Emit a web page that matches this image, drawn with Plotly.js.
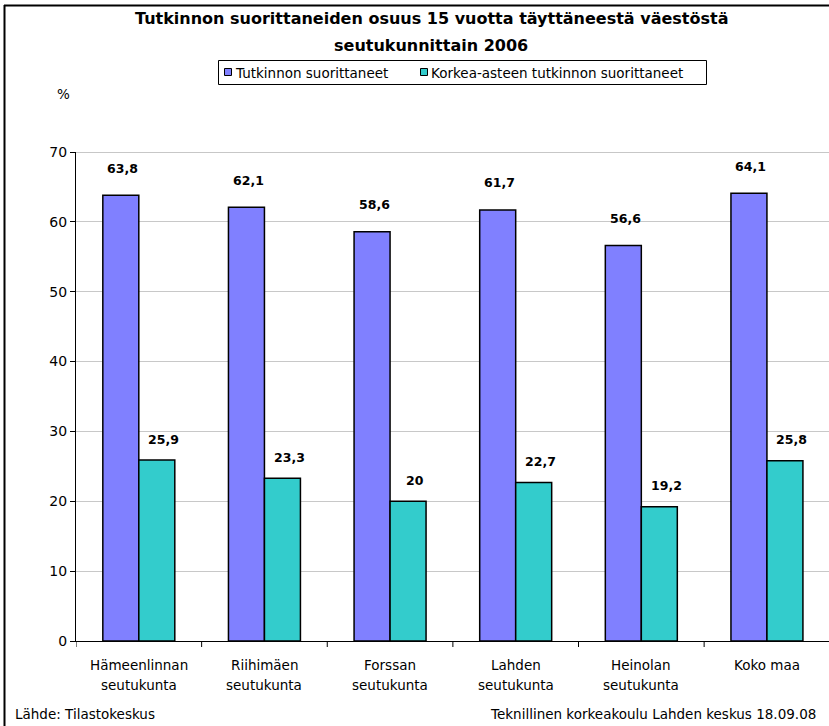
<!DOCTYPE html>
<html>
<head>
<meta charset="utf-8">
<script src="https://cdn.plot.ly/plotly-3.0.1.min.js"></script>
<style>
html,body{margin:0;padding:0;background:#fff;}
#chart{width:829px;height:726px;}
</style>
</head>
<body>
<div id="chart"></div>
<script>
// ---- data ----
const categories = ["Hämeenlinnan<br>seutukunta", "Riihimäen<br>seutukunta", "Forssan<br>seutukunta", "Lahden<br>seutukunta", "Heinolan<br>seutukunta", "Koko maa"];
const seriesNames = ["Tutkinnon suorittaneet", "Korkea-asteen tutkinnon suorittaneet"];
const tutkinto = [63.8, 62.1, 58.6, 61.7, 56.6, 64.1];
const korkea = [25.9, 23.3, 20, 22.7, 19.2, 25.8];
const yTicks = [0, 10, 20, 30, 40, 50, 60, 70];
const titleLines = ["Tutkinnon suorittaneiden osuus 15 vuotta täyttäneestä väestöstä", "seutukunnittain 2006"];
const sourceText = "Lähde: Tilastokeskus";
const creditText = "Teknillinen korkeakoulu Lahden keskus 18.09.08";
const seriesColors = ['#8080ff', '#33cccc'];

// ---- layout geometry ----
const W = 829, H = 726;
const mL = 76, mR = 0, mT = 152, mB = 85;
const pw = W - mL - mR, ph = H - mT - mB;
const px = x => (x - mL) / pw;          // pixel -> paper x
const py = y => (H - mB - y) / ph;      // pixel -> paper y

const FONT = "DejaVu Sans, Verdana, sans-serif";
const FS = 13.5;
const fmt = v => String(v).replace('.', ',');
const idx = categories.map((_, i) => i);

const traces = [
  {type: 'bar', name: seriesNames[0], x: idx, y: tutkinto,
   marker: {color: seriesColors[0], line: {color: '#000', width: 1.5}}, hoverinfo: 'none'},
  {type: 'bar', name: seriesNames[1], x: idx, y: korkea,
   marker: {color: seriesColors[1], line: {color: '#000', width: 1.5}}, hoverinfo: 'none'}
];

const annotations = [];
const barOff = 0.143;
tutkinto.forEach((v, i) => annotations.push({x: i - barOff, y: v, xref: 'x', yref: 'y', text: '<b>' + fmt(v) + '</b>',
  showarrow: false, yanchor: 'middle', yshift: 27, xshift: 2, font: {family: FONT, size: 12.5, color: '#000'}}));
korkea.forEach((v, i) => annotations.push({x: i + barOff, y: v, xref: 'x', yref: 'y', text: '<b>' + fmt(v) + '</b>',
  showarrow: false, yanchor: 'middle', yshift: 21, xshift: 7, font: {family: FONT, size: 12.5, color: '#000'}}));

// category labels (two lines each)
categories.forEach((c, i) => {
  c.split('<br>').forEach((line, k) => annotations.push({x: i, y: py(665 + 20 * k), xref: 'x', yref: 'paper', text: line,
    showarrow: false, xanchor: 'center', yanchor: 'middle', font: {family: FONT, size: FS, color: '#000'}}));
});

// title lines
titleLines.forEach((t, k) => annotations.push({x: px(431), y: py(19 + 26 * k), xref: 'paper', yref: 'paper', text: '<b>' + t + '</b>', showarrow: false,
  xanchor: 'center', yanchor: 'middle', font: {family: FONT, size: 16, color: '#000'}}));
// % unit
annotations.push({x: px(63), y: py(94), xref: 'paper', yref: 'paper', text: '%', showarrow: false,
  xanchor: 'center', yanchor: 'middle', font: {family: FONT, size: FS, color: '#000'}});
// footer
annotations.push({x: px(13), y: py(714), xref: 'paper', yref: 'paper', text: sourceText, showarrow: false,
  xanchor: 'left', yanchor: 'middle', font: {family: FONT, size: FS, color: '#000'}});
annotations.push({x: px(818), y: py(714), xref: 'paper', yref: 'paper', text: creditText, showarrow: false,
  xanchor: 'right', yanchor: 'middle', font: {family: FONT, size: FS, color: '#000'}});

const shapes = [
  // outer frame (top and left edges visible)
  {type: 'line', xref: 'paper', yref: 'paper', x0: px(4), x1: px(829), y0: py(5.5), y1: py(5.5), line: {color: '#000', width: 2}},
  {type: 'line', xref: 'paper', yref: 'paper', x0: px(4.5), x1: px(4.5), y0: py(5), y1: py(726), line: {color: '#000', width: 2}},
  // top gridline slightly darker
  {type: 'line', xref: 'paper', yref: 'y', x0: 0, x1: 1, y0: 70, y1: 70, line: {color: '#909090', width: 1}},
  // legend box
  {type: 'rect', xref: 'paper', yref: 'paper', x0: px(218.5), x1: px(706.5), y0: py(60.5), y1: py(84.5), line: {color: '#000', width: 1}, fillcolor: '#fff'}
];

// legend entries
const legendItems = [{sq: 224, tx: 233}, {sq: 420, tx: 429}];
legendItems.forEach((it, k) => {
  shapes.push({type: 'rect', xref: 'paper', yref: 'paper', x0: px(it.sq + 0.5), x1: px(it.sq + 7.5), y0: py(68.5), y1: py(75.5),
    line: {color: '#000', width: 1}, fillcolor: seriesColors[k]});
  annotations.push({x: px(it.tx), y: py(72.5), xref: 'paper', yref: 'paper', text: seriesNames[k], showarrow: false,
    xanchor: 'left', yanchor: 'middle', font: {family: FONT, size: FS, color: '#000'}});
});

// category boundary ticks on x axis
for (let i = 0; i <= categories.length; i++) {
  shapes.push({type: 'line', xref: 'x', yref: 'paper', x0: i - 0.5, x1: i - 0.5, y0: 0, y1: -6 / ph, line: {color: '#000', width: 1}});
}

const layout = {
  width: W, height: H,
  margin: {l: mL, r: mR, t: mT, b: mB, pad: 0},
  paper_bgcolor: '#fff', plot_bgcolor: '#fff',
  font: {family: FONT, size: FS, color: '#000'},
  barmode: 'group', bargap: 0.427, bargroupgap: 0,
  showlegend: false,
  xaxis: {type: 'linear', range: [-0.5, 5.494], showticklabels: false,
    showgrid: false, zeroline: false, showline: true, linecolor: '#000', linewidth: 1,
    ticks: '', fixedrange: true},
  yaxis: {range: [0, 70], tickmode: 'array', tickvals: yTicks, ticktext: yTicks.map(String),
    showgrid: true, gridcolor: '#c8c8c8', gridwidth: 1, zeroline: false,
    showline: true, linecolor: '#000', linewidth: 1, ticks: 'outside', ticklen: 5, tickcolor: '#000',
    tickfont: {family: FONT, size: 14, color: '#000'}, fixedrange: true},
  annotations: annotations,
  shapes: shapes
};

Plotly.newPlot('chart', traces, layout, {staticPlot: true, displayModeBar: false});
</script>
</body>
</html>
